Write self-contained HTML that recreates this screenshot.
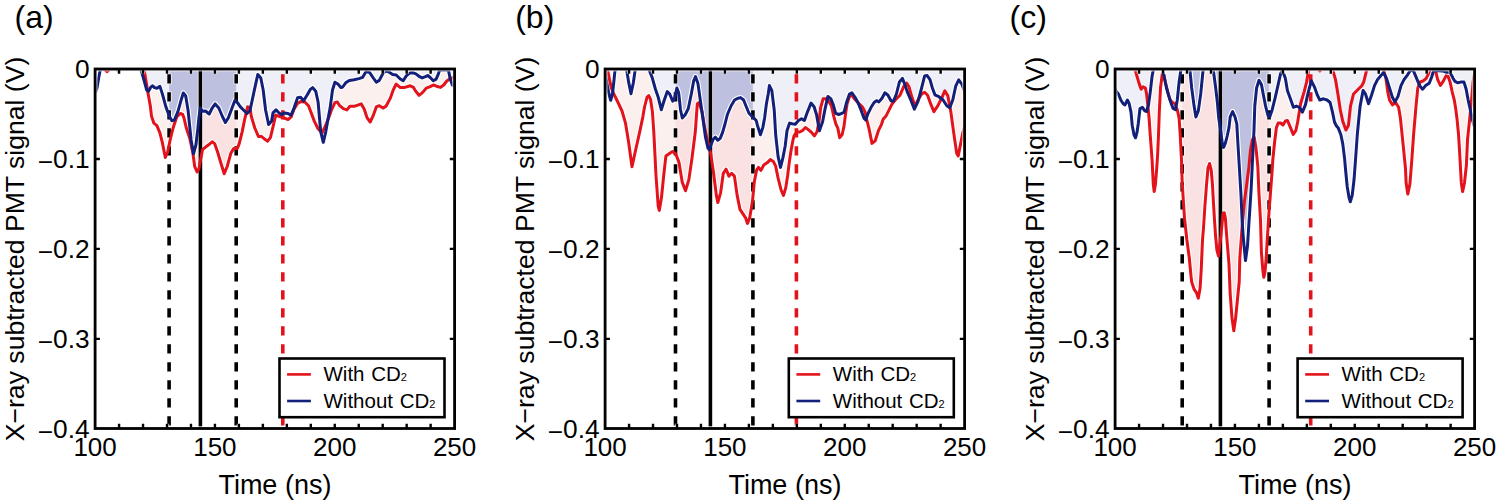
<!DOCTYPE html><html><head><meta charset="utf-8"><style>html,body{margin:0;padding:0;background:#fff;overflow:hidden}svg{display:block}text{font-family:"Liberation Sans", sans-serif}</style></head><body>
<svg width="1498" height="504" viewBox="0 0 1498 504">
<defs>
<clipPath id="plot"><rect x="95.1" y="69.0" width="359.5" height="359.5"/></clipPath>
<clipPath id="win0"><rect x="169.1" y="69.0" width="67.1" height="359.5"/></clipPath>
<clipPath id="win1"><rect x="165.5" y="69.0" width="77.39999999999998" height="359.5"/></clipPath>
<clipPath id="win2"><rect x="162.20000000000005" y="69.0" width="86.89999999999986" height="359.5"/></clipPath>
</defs>
<g transform="translate(0,0)">
<g clip-path="url(#plot)">
<polygon points="95.5,69.0 95.5,68.8 104.0,68.8 107.0,71.6 110.0,68.8 143.0,68.8 144.3,70.8 147.9,92.4 150.3,105.7 151.5,116.0 153.9,123.2 156.9,125.6 159.9,132.8 162.3,142.4 165.3,157.5 167.7,152.0 170.1,140.0 173.1,128.0 176.7,117.0 180.3,113.5 182.7,114.5 184.0,118.0 186.3,128.0 189.9,138.8 192.9,153.3 194.7,166.5 197.1,171.9 198.9,168.9 200.5,160.0 202.5,149.6 205.5,147.2 208.6,144.8 212.2,141.8 214.6,143.6 217.6,152.0 221.2,164.0 224.2,173.7 227.2,166.5 230.8,153.3 233.8,148.4 237.4,148.4 239.2,143.6 242.2,131.6 244.6,119.6 247.6,106.9 250.0,107.5 251.2,116.0 254.8,128.0 258.4,136.4 261.4,136.4 264.4,138.8 267.4,141.2 270.4,137.6 272.5,129.0 275.7,115.1 279.6,116.5 283.2,117.7 288.0,119.5 291.0,117.1 294.0,109.3 297.6,103.3 301.2,101.4 304.8,102.0 308.5,105.7 310.6,111.3 314.4,121.4 318.2,129.0 322.0,132.8 325.8,125.2 329.6,115.1 331.3,110.5 334.9,102.6 337.3,102.0 339.7,105.7 343.3,108.7 346.9,109.9 349.9,106.3 354.1,106.3 357.7,105.1 361.3,103.9 364.3,109.3 367.0,117.6 370.2,122.0 373.4,115.1 376.3,106.9 379.3,105.7 383.0,108.1 386.0,106.3 390.2,98.4 393.2,90.0 396.2,84.0 400.0,87.4 404.8,87.4 410.3,85.8 413.5,87.4 415.9,91.4 419.0,95.3 422.2,92.9 426.2,88.2 430.2,86.6 433.3,85.0 436.5,86.2 440.5,87.4 443.7,85.0 446.8,81.0 450.0,78.7 452.4,77.9 454.0,77.0 454.0,69.0" fill="#fcf0ef"/>
<g clip-path="url(#win0)"><polygon points="95.5,69.0 95.5,68.8 104.0,68.8 107.0,71.6 110.0,68.8 143.0,68.8 144.3,70.8 147.9,92.4 150.3,105.7 151.5,116.0 153.9,123.2 156.9,125.6 159.9,132.8 162.3,142.4 165.3,157.5 167.7,152.0 170.1,140.0 173.1,128.0 176.7,117.0 180.3,113.5 182.7,114.5 184.0,118.0 186.3,128.0 189.9,138.8 192.9,153.3 194.7,166.5 197.1,171.9 198.9,168.9 200.5,160.0 202.5,149.6 205.5,147.2 208.6,144.8 212.2,141.8 214.6,143.6 217.6,152.0 221.2,164.0 224.2,173.7 227.2,166.5 230.8,153.3 233.8,148.4 237.4,148.4 239.2,143.6 242.2,131.6 244.6,119.6 247.6,106.9 250.0,107.5 251.2,116.0 254.8,128.0 258.4,136.4 261.4,136.4 264.4,138.8 267.4,141.2 270.4,137.6 272.5,129.0 275.7,115.1 279.6,116.5 283.2,117.7 288.0,119.5 291.0,117.1 294.0,109.3 297.6,103.3 301.2,101.4 304.8,102.0 308.5,105.7 310.6,111.3 314.4,121.4 318.2,129.0 322.0,132.8 325.8,125.2 329.6,115.1 331.3,110.5 334.9,102.6 337.3,102.0 339.7,105.7 343.3,108.7 346.9,109.9 349.9,106.3 354.1,106.3 357.7,105.1 361.3,103.9 364.3,109.3 367.0,117.6 370.2,122.0 373.4,115.1 376.3,106.9 379.3,105.7 383.0,108.1 386.0,106.3 390.2,98.4 393.2,90.0 396.2,84.0 400.0,87.4 404.8,87.4 410.3,85.8 413.5,87.4 415.9,91.4 419.0,95.3 422.2,92.9 426.2,88.2 430.2,86.6 433.3,85.0 436.5,86.2 440.5,87.4 443.7,85.0 446.8,81.0 450.0,78.7 452.4,77.9 454.0,77.0 454.0,69.0" fill="#fae2e2"/></g>
<polyline points="95.5,68.8 104.0,68.8 107.0,71.6 110.0,68.8 143.0,68.8 144.3,70.8 147.9,92.4 150.3,105.7 151.5,116.0 153.9,123.2 156.9,125.6 159.9,132.8 162.3,142.4 165.3,157.5 167.7,152.0 170.1,140.0 173.1,128.0 176.7,117.0 180.3,113.5 182.7,114.5 184.0,118.0 186.3,128.0 189.9,138.8 192.9,153.3 194.7,166.5 197.1,171.9 198.9,168.9 200.5,160.0 202.5,149.6 205.5,147.2 208.6,144.8 212.2,141.8 214.6,143.6 217.6,152.0 221.2,164.0 224.2,173.7 227.2,166.5 230.8,153.3 233.8,148.4 237.4,148.4 239.2,143.6 242.2,131.6 244.6,119.6 247.6,106.9 250.0,107.5 251.2,116.0 254.8,128.0 258.4,136.4 261.4,136.4 264.4,138.8 267.4,141.2 270.4,137.6 272.5,129.0 275.7,115.1 279.6,116.5 283.2,117.7 288.0,119.5 291.0,117.1 294.0,109.3 297.6,103.3 301.2,101.4 304.8,102.0 308.5,105.7 310.6,111.3 314.4,121.4 318.2,129.0 322.0,132.8 325.8,125.2 329.6,115.1 331.3,110.5 334.9,102.6 337.3,102.0 339.7,105.7 343.3,108.7 346.9,109.9 349.9,106.3 354.1,106.3 357.7,105.1 361.3,103.9 364.3,109.3 367.0,117.6 370.2,122.0 373.4,115.1 376.3,106.9 379.3,105.7 383.0,108.1 386.0,106.3 390.2,98.4 393.2,90.0 396.2,84.0 400.0,87.4 404.8,87.4 410.3,85.8 413.5,87.4 415.9,91.4 419.0,95.3 422.2,92.9 426.2,88.2 430.2,86.6 433.3,85.0 436.5,86.2 440.5,87.4 443.7,85.0 446.8,81.0 450.0,78.7 452.4,77.9 454.0,77.0" fill="none" stroke="#fff" stroke-width="5.2" stroke-linejoin="round"/>
<polygon points="95.5,69.0 95.5,92.0 97.0,88.0 99.0,76.0 100.5,68.8 117.0,68.8 118.5,71.5 120.0,68.8 140.0,68.8 141.3,70.8 144.0,80.0 146.7,90.0 148.5,91.2 150.9,87.0 152.7,85.8 154.5,87.6 156.9,88.2 159.9,86.4 162.3,93.6 165.9,106.9 169.5,116.5 171.9,120.7 174.3,120.1 177.9,111.7 180.9,100.8 183.3,93.0 185.7,96.0 188.1,110.5 191.1,140.0 193.5,153.8 195.9,145.0 197.7,130.0 198.9,118.0 200.3,108.0 202.5,111.3 205.5,111.0 209.2,114.0 212.2,108.0 215.2,103.9 218.8,108.0 222.4,116.5 225.4,122.5 228.4,117.7 232.0,108.0 235.0,100.2 237.4,102.6 240.4,106.9 244.0,110.5 247.0,113.5 250.0,110.5 253.6,93.6 257.8,74.4 260.8,78.0 263.2,90.0 265.6,110.0 268.6,124.5 271.6,121.0 273.0,112.9 276.0,109.9 278.4,112.3 281.4,114.7 284.4,112.9 288.0,113.5 291.0,115.3 294.0,108.1 297.6,97.8 300.6,97.2 303.6,100.8 307.3,94.8 310.3,89.4 312.7,87.6 315.7,91.2 318.1,102.0 320.7,131.6 323.3,142.3 325.8,131.6 328.3,117.6 330.1,108.1 332.5,90.0 334.9,82.2 337.9,84.0 340.9,87.6 342.7,87.0 345.7,82.8 349.3,80.4 354.1,79.8 358.9,78.6 362.5,77.4 366.1,71.4 369.7,72.6 373.3,78.0 376.3,82.2 379.3,80.4 383.0,73.2 386.0,70.8 389.0,72.0 392.6,74.4 396.2,75.0 400.0,78.7 403.2,80.7 406.3,75.9 409.5,73.1 412.7,72.7 415.9,73.9 419.0,76.3 422.2,77.9 425.4,76.7 427.8,75.5 430.2,77.5 433.3,80.7 436.1,79.1 438.1,74.7 439.7,69.9 448.4,69.9 450.0,77.9 452.4,85.0 454.0,86.0 454.0,69.0" fill="#efeff8"/>
<g clip-path="url(#win0)"><polygon points="95.5,69.0 95.5,92.0 97.0,88.0 99.0,76.0 100.5,68.8 117.0,68.8 118.5,71.5 120.0,68.8 140.0,68.8 141.3,70.8 144.0,80.0 146.7,90.0 148.5,91.2 150.9,87.0 152.7,85.8 154.5,87.6 156.9,88.2 159.9,86.4 162.3,93.6 165.9,106.9 169.5,116.5 171.9,120.7 174.3,120.1 177.9,111.7 180.9,100.8 183.3,93.0 185.7,96.0 188.1,110.5 191.1,140.0 193.5,153.8 195.9,145.0 197.7,130.0 198.9,118.0 200.3,108.0 202.5,111.3 205.5,111.0 209.2,114.0 212.2,108.0 215.2,103.9 218.8,108.0 222.4,116.5 225.4,122.5 228.4,117.7 232.0,108.0 235.0,100.2 237.4,102.6 240.4,106.9 244.0,110.5 247.0,113.5 250.0,110.5 253.6,93.6 257.8,74.4 260.8,78.0 263.2,90.0 265.6,110.0 268.6,124.5 271.6,121.0 273.0,112.9 276.0,109.9 278.4,112.3 281.4,114.7 284.4,112.9 288.0,113.5 291.0,115.3 294.0,108.1 297.6,97.8 300.6,97.2 303.6,100.8 307.3,94.8 310.3,89.4 312.7,87.6 315.7,91.2 318.1,102.0 320.7,131.6 323.3,142.3 325.8,131.6 328.3,117.6 330.1,108.1 332.5,90.0 334.9,82.2 337.9,84.0 340.9,87.6 342.7,87.0 345.7,82.8 349.3,80.4 354.1,79.8 358.9,78.6 362.5,77.4 366.1,71.4 369.7,72.6 373.3,78.0 376.3,82.2 379.3,80.4 383.0,73.2 386.0,70.8 389.0,72.0 392.6,74.4 396.2,75.0 400.0,78.7 403.2,80.7 406.3,75.9 409.5,73.1 412.7,72.7 415.9,73.9 419.0,76.3 422.2,77.9 425.4,76.7 427.8,75.5 430.2,77.5 433.3,80.7 436.1,79.1 438.1,74.7 439.7,69.9 448.4,69.9 450.0,77.9 452.4,85.0 454.0,86.0 454.0,69.0" fill="#bec0e0"/></g>
<polyline points="95.5,92.0 97.0,88.0 99.0,76.0 100.5,68.8 117.0,68.8 118.5,71.5 120.0,68.8 140.0,68.8 141.3,70.8 144.0,80.0 146.7,90.0 148.5,91.2 150.9,87.0 152.7,85.8 154.5,87.6 156.9,88.2 159.9,86.4 162.3,93.6 165.9,106.9 169.5,116.5 171.9,120.7 174.3,120.1 177.9,111.7 180.9,100.8 183.3,93.0 185.7,96.0 188.1,110.5 191.1,140.0 193.5,153.8 195.9,145.0 197.7,130.0 198.9,118.0 200.3,108.0 202.5,111.3 205.5,111.0 209.2,114.0 212.2,108.0 215.2,103.9 218.8,108.0 222.4,116.5 225.4,122.5 228.4,117.7 232.0,108.0 235.0,100.2 237.4,102.6 240.4,106.9 244.0,110.5 247.0,113.5 250.0,110.5 253.6,93.6 257.8,74.4 260.8,78.0 263.2,90.0 265.6,110.0 268.6,124.5 271.6,121.0 273.0,112.9 276.0,109.9 278.4,112.3 281.4,114.7 284.4,112.9 288.0,113.5 291.0,115.3 294.0,108.1 297.6,97.8 300.6,97.2 303.6,100.8 307.3,94.8 310.3,89.4 312.7,87.6 315.7,91.2 318.1,102.0 320.7,131.6 323.3,142.3 325.8,131.6 328.3,117.6 330.1,108.1 332.5,90.0 334.9,82.2 337.9,84.0 340.9,87.6 342.7,87.0 345.7,82.8 349.3,80.4 354.1,79.8 358.9,78.6 362.5,77.4 366.1,71.4 369.7,72.6 373.3,78.0 376.3,82.2 379.3,80.4 383.0,73.2 386.0,70.8 389.0,72.0 392.6,74.4 396.2,75.0 400.0,78.7 403.2,80.7 406.3,75.9 409.5,73.1 412.7,72.7 415.9,73.9 419.0,76.3 422.2,77.9 425.4,76.7 427.8,75.5 430.2,77.5 433.3,80.7 436.1,79.1 438.1,74.7 439.7,69.9 448.4,69.9 450.0,77.9 452.4,85.0 454.0,86.0" fill="none" stroke="#fff" stroke-width="5.2" stroke-linejoin="round"/>
<line x1="169.1" y1="69.0" x2="169.1" y2="428.5" stroke="#fff" stroke-width="5.2" stroke-dasharray="10.799999999999999 7.200000000000001" stroke-dashoffset="-4.4" opacity="0.8"/>
<line x1="169.1" y1="69.0" x2="169.1" y2="428.5" stroke="#000" stroke-width="3.6" stroke-dasharray="9.2 8.8" stroke-dashoffset="-5.2"/>
<line x1="236.2" y1="69.0" x2="236.2" y2="428.5" stroke="#fff" stroke-width="5.2" stroke-dasharray="10.799999999999999 7.200000000000001" stroke-dashoffset="-4.4" opacity="0.8"/>
<line x1="236.2" y1="69.0" x2="236.2" y2="428.5" stroke="#000" stroke-width="3.6" stroke-dasharray="9.2 8.8" stroke-dashoffset="-5.2"/>
<line x1="200.4" y1="69.0" x2="200.4" y2="428.5" stroke="#fff" stroke-width="5.2" opacity="0.8"/>
<line x1="200.4" y1="69.0" x2="200.4" y2="428.5" stroke="#000" stroke-width="3.6"/>
<line x1="282.8" y1="69.0" x2="282.8" y2="428.5" stroke="#e3121b" stroke-width="3.6" stroke-dasharray="9.2 8.8" stroke-dashoffset="-5.2"/>
<polyline points="95.5,68.8 104.0,68.8 107.0,71.6 110.0,68.8 143.0,68.8 144.3,70.8 147.9,92.4 150.3,105.7 151.5,116.0 153.9,123.2 156.9,125.6 159.9,132.8 162.3,142.4 165.3,157.5 167.7,152.0 170.1,140.0 173.1,128.0 176.7,117.0 180.3,113.5 182.7,114.5 184.0,118.0 186.3,128.0 189.9,138.8 192.9,153.3 194.7,166.5 197.1,171.9 198.9,168.9 200.5,160.0 202.5,149.6 205.5,147.2 208.6,144.8 212.2,141.8 214.6,143.6 217.6,152.0 221.2,164.0 224.2,173.7 227.2,166.5 230.8,153.3 233.8,148.4 237.4,148.4 239.2,143.6 242.2,131.6 244.6,119.6 247.6,106.9 250.0,107.5 251.2,116.0 254.8,128.0 258.4,136.4 261.4,136.4 264.4,138.8 267.4,141.2 270.4,137.6 272.5,129.0 275.7,115.1 279.6,116.5 283.2,117.7 288.0,119.5 291.0,117.1 294.0,109.3 297.6,103.3 301.2,101.4 304.8,102.0 308.5,105.7 310.6,111.3 314.4,121.4 318.2,129.0 322.0,132.8 325.8,125.2 329.6,115.1 331.3,110.5 334.9,102.6 337.3,102.0 339.7,105.7 343.3,108.7 346.9,109.9 349.9,106.3 354.1,106.3 357.7,105.1 361.3,103.9 364.3,109.3 367.0,117.6 370.2,122.0 373.4,115.1 376.3,106.9 379.3,105.7 383.0,108.1 386.0,106.3 390.2,98.4 393.2,90.0 396.2,84.0 400.0,87.4 404.8,87.4 410.3,85.8 413.5,87.4 415.9,91.4 419.0,95.3 422.2,92.9 426.2,88.2 430.2,86.6 433.3,85.0 436.5,86.2 440.5,87.4 443.7,85.0 446.8,81.0 450.0,78.7 452.4,77.9 454.0,77.0" fill="none" stroke="#e3121b" stroke-width="3.0" stroke-linejoin="round" stroke-linecap="round"/>
<polyline points="95.5,92.0 97.0,88.0 99.0,76.0 100.5,68.8 117.0,68.8 118.5,71.5 120.0,68.8 140.0,68.8 141.3,70.8 144.0,80.0 146.7,90.0 148.5,91.2 150.9,87.0 152.7,85.8 154.5,87.6 156.9,88.2 159.9,86.4 162.3,93.6 165.9,106.9 169.5,116.5 171.9,120.7 174.3,120.1 177.9,111.7 180.9,100.8 183.3,93.0 185.7,96.0 188.1,110.5 191.1,140.0 193.5,153.8 195.9,145.0 197.7,130.0 198.9,118.0 200.3,108.0 202.5,111.3 205.5,111.0 209.2,114.0 212.2,108.0 215.2,103.9 218.8,108.0 222.4,116.5 225.4,122.5 228.4,117.7 232.0,108.0 235.0,100.2 237.4,102.6 240.4,106.9 244.0,110.5 247.0,113.5 250.0,110.5 253.6,93.6 257.8,74.4 260.8,78.0 263.2,90.0 265.6,110.0 268.6,124.5 271.6,121.0 273.0,112.9 276.0,109.9 278.4,112.3 281.4,114.7 284.4,112.9 288.0,113.5 291.0,115.3 294.0,108.1 297.6,97.8 300.6,97.2 303.6,100.8 307.3,94.8 310.3,89.4 312.7,87.6 315.7,91.2 318.1,102.0 320.7,131.6 323.3,142.3 325.8,131.6 328.3,117.6 330.1,108.1 332.5,90.0 334.9,82.2 337.9,84.0 340.9,87.6 342.7,87.0 345.7,82.8 349.3,80.4 354.1,79.8 358.9,78.6 362.5,77.4 366.1,71.4 369.7,72.6 373.3,78.0 376.3,82.2 379.3,80.4 383.0,73.2 386.0,70.8 389.0,72.0 392.6,74.4 396.2,75.0 400.0,78.7 403.2,80.7 406.3,75.9 409.5,73.1 412.7,72.7 415.9,73.9 419.0,76.3 422.2,77.9 425.4,76.7 427.8,75.5 430.2,77.5 433.3,80.7 436.1,79.1 438.1,74.7 439.7,69.9 448.4,69.9 450.0,77.9 452.4,85.0 454.0,86.0" fill="none" stroke="#12207a" stroke-width="3.0" stroke-linejoin="round" stroke-linecap="round"/>
</g>
<rect x="95.1" y="69.0" width="359.5" height="359.5" fill="none" stroke="#fff" stroke-opacity="0.7" stroke-width="4.8"/>
<path d="M119.07,428.5v-4.8M119.07,69.0v4.8M143.03,428.5v-4.8M143.03,69.0v4.8M167.00,428.5v-4.8M167.00,69.0v4.8M190.97,428.5v-4.8M190.97,69.0v4.8M214.93,428.5v-4.8M214.93,69.0v4.8M238.90,428.5v-4.8M238.90,69.0v4.8M262.87,428.5v-4.8M262.87,69.0v4.8M286.83,428.5v-4.8M286.83,69.0v4.8M310.80,428.5v-4.8M310.80,69.0v4.8M334.77,428.5v-4.8M334.77,69.0v4.8M358.73,428.5v-4.8M358.73,69.0v4.8M382.70,428.5v-4.8M382.70,69.0v4.8M406.67,428.5v-4.8M406.67,69.0v4.8M430.63,428.5v-4.8M430.63,69.0v4.8M95.1,158.95h4.8M454.6,158.95h-4.8M95.1,248.90h4.8M454.6,248.90h-4.8M95.1,338.85h4.8M454.6,338.85h-4.8" stroke="#fff" stroke-opacity="0.7" stroke-width="4.4" fill="none"/>
<path d="M119.07,428.5v-4.8M119.07,69.0v4.8M143.03,428.5v-4.8M143.03,69.0v4.8M167.00,428.5v-4.8M167.00,69.0v4.8M190.97,428.5v-4.8M190.97,69.0v4.8M214.93,428.5v-4.8M214.93,69.0v4.8M238.90,428.5v-4.8M238.90,69.0v4.8M262.87,428.5v-4.8M262.87,69.0v4.8M286.83,428.5v-4.8M286.83,69.0v4.8M310.80,428.5v-4.8M310.80,69.0v4.8M334.77,428.5v-4.8M334.77,69.0v4.8M358.73,428.5v-4.8M358.73,69.0v4.8M382.70,428.5v-4.8M382.70,69.0v4.8M406.67,428.5v-4.8M406.67,69.0v4.8M430.63,428.5v-4.8M430.63,69.0v4.8M95.1,158.95h4.8M454.6,158.95h-4.8M95.1,248.90h4.8M454.6,248.90h-4.8M95.1,338.85h4.8M454.6,338.85h-4.8" stroke="#000" stroke-width="2.4" fill="none"/>
<rect x="95.1" y="69.0" width="359.5" height="359.5" fill="none" stroke="#000" stroke-width="2.8"/>
<text x="89.6" y="78.3" font-size="26.3" text-anchor="end">0</text>
<text x="89.6" y="168.2" font-size="26.3" text-anchor="end"><tspan dy="2.4">−</tspan><tspan dy="-2.4">0.1</tspan></text>
<text x="89.6" y="258.2" font-size="26.3" text-anchor="end"><tspan dy="2.4">−</tspan><tspan dy="-2.4">0.2</tspan></text>
<text x="89.6" y="348.1" font-size="26.3" text-anchor="end"><tspan dy="2.4">−</tspan><tspan dy="-2.4">0.3</tspan></text>
<text x="89.6" y="438.1" font-size="26.3" text-anchor="end"><tspan dy="2.4">−</tspan><tspan dy="-2.4">0.4</tspan></text>
<text x="95.1" y="456.2" font-size="26" text-anchor="middle">100</text>
<text x="214.9" y="456.2" font-size="26" text-anchor="middle">150</text>
<text x="334.8" y="456.2" font-size="26" text-anchor="middle">200</text>
<text x="454.6" y="456.2" font-size="26" text-anchor="middle">250</text>
<text x="274.9" y="494.2" font-size="27" text-anchor="middle">Time (ns)</text>
<text transform="translate(23.6,249.0) rotate(-90)" x="0" y="0" font-size="26.6" text-anchor="middle">X−ray subtracted PMT signal (V)</text>
<text x="14.5" y="28" font-size="32">(a)</text>
<g transform="translate(0,0)">
<rect x="279.5" y="358.5" width="165" height="58.7" fill="#fff" stroke="#000" stroke-width="2.6"/>
<line x1="287.1" y1="374.4" x2="310.9" y2="374.4" stroke="#e3121b" stroke-width="2.6"/>
<line x1="287.1" y1="401" x2="310.9" y2="401" stroke="#12207a" stroke-width="2.6"/>
<text x="323.5" y="381" font-size="20.5" word-spacing="1">With CD<tspan font-size="11">2</tspan></text>
<text x="323.5" y="407.5" font-size="20.5" word-spacing="1">Without CD<tspan font-size="11">2</tspan></text>
</g>
</g>
<g transform="translate(510,0)">
<g clip-path="url(#plot)">
<polygon points="95.5,69.0 95.5,68.8 97.7,70.5 99.5,79.5 101.3,87.8 103.7,93.8 106.1,98.5 109.0,104.5 112.0,111.0 115.5,123.1 118.7,142.8 122.0,166.8 125.3,151.5 129.7,131.8 132.9,116.6 134.5,107.0 137.0,97.3 138.8,95.5 140.6,99.7 142.4,111.6 143.8,131.8 146.0,175.5 148.2,206.1 149.3,210.4 151.5,197.3 153.7,175.5 155.9,155.9 159.1,153.7 162.4,151.5 165.7,153.7 169.0,162.4 172.2,182.1 175.5,190.8 178.8,179.9 182.0,158.0 185.3,131.8 187.3,103.7 189.1,102.5 192.1,112.0 193.9,123.3 196.9,138.4 199.4,148.0 200.8,153.9 203.6,173.3 206.4,195.6 207.8,202.5 210.6,192.8 213.3,173.3 216.1,169.2 218.9,176.1 221.7,173.3 224.4,176.1 227.2,195.6 230.0,209.4 232.8,213.6 235.6,217.8 237.5,223.4 239.7,217.8 242.5,201.1 244.3,181.7 246.7,169.8 248.5,167.4 250.8,170.4 253.8,165.0 257.4,162.6 260.4,159.6 263.3,161.4 265.7,166.2 268.1,178.1 271.1,190.0 273.5,195.4 275.8,187.6 277.6,175.7 279.4,161.4 281.2,149.5 283.0,140.0 284.0,135.8 286.6,132.0 289.7,132.0 292.3,130.7 295.4,127.5 298.0,129.4 301.1,132.0 304.3,135.8 306.9,132.0 308.8,123.1 310.7,107.3 313.1,98.8 315.5,98.8 318.5,100.7 321.5,106.1 323.9,116.9 325.9,124.0 327.8,128.1 329.7,137.7 332.2,134.5 334.1,125.6 335.4,115.0 337.1,103.7 340.1,94.6 342.5,96.4 345.5,100.0 349.1,103.7 352.7,107.3 355.1,112.1 356.3,118.0 358.9,128.1 362.0,143.4 365.2,140.8 368.4,130.7 371.5,124.3 373.1,119.3 376.2,115.7 379.2,109.7 382.2,103.7 385.2,100.0 390.0,95.2 393.6,86.8 396.6,83.2 399.0,86.8 402.0,97.6 405.0,106.1 408.0,100.0 411.6,94.0 414.6,92.2 417.6,95.2 420.6,103.7 423.9,111.6 427.9,105.7 431.9,97.7 434.8,90.8 437.8,95.7 440.8,111.6 443.8,133.4 446.7,153.3 448.2,156.0 450.7,143.4 452.7,133.2 454.5,127.0 454.5,69.0" fill="#fcf0ef"/>
<g clip-path="url(#win1)"><polygon points="95.5,69.0 95.5,68.8 97.7,70.5 99.5,79.5 101.3,87.8 103.7,93.8 106.1,98.5 109.0,104.5 112.0,111.0 115.5,123.1 118.7,142.8 122.0,166.8 125.3,151.5 129.7,131.8 132.9,116.6 134.5,107.0 137.0,97.3 138.8,95.5 140.6,99.7 142.4,111.6 143.8,131.8 146.0,175.5 148.2,206.1 149.3,210.4 151.5,197.3 153.7,175.5 155.9,155.9 159.1,153.7 162.4,151.5 165.7,153.7 169.0,162.4 172.2,182.1 175.5,190.8 178.8,179.9 182.0,158.0 185.3,131.8 187.3,103.7 189.1,102.5 192.1,112.0 193.9,123.3 196.9,138.4 199.4,148.0 200.8,153.9 203.6,173.3 206.4,195.6 207.8,202.5 210.6,192.8 213.3,173.3 216.1,169.2 218.9,176.1 221.7,173.3 224.4,176.1 227.2,195.6 230.0,209.4 232.8,213.6 235.6,217.8 237.5,223.4 239.7,217.8 242.5,201.1 244.3,181.7 246.7,169.8 248.5,167.4 250.8,170.4 253.8,165.0 257.4,162.6 260.4,159.6 263.3,161.4 265.7,166.2 268.1,178.1 271.1,190.0 273.5,195.4 275.8,187.6 277.6,175.7 279.4,161.4 281.2,149.5 283.0,140.0 284.0,135.8 286.6,132.0 289.7,132.0 292.3,130.7 295.4,127.5 298.0,129.4 301.1,132.0 304.3,135.8 306.9,132.0 308.8,123.1 310.7,107.3 313.1,98.8 315.5,98.8 318.5,100.7 321.5,106.1 323.9,116.9 325.9,124.0 327.8,128.1 329.7,137.7 332.2,134.5 334.1,125.6 335.4,115.0 337.1,103.7 340.1,94.6 342.5,96.4 345.5,100.0 349.1,103.7 352.7,107.3 355.1,112.1 356.3,118.0 358.9,128.1 362.0,143.4 365.2,140.8 368.4,130.7 371.5,124.3 373.1,119.3 376.2,115.7 379.2,109.7 382.2,103.7 385.2,100.0 390.0,95.2 393.6,86.8 396.6,83.2 399.0,86.8 402.0,97.6 405.0,106.1 408.0,100.0 411.6,94.0 414.6,92.2 417.6,95.2 420.6,103.7 423.9,111.6 427.9,105.7 431.9,97.7 434.8,90.8 437.8,95.7 440.8,111.6 443.8,133.4 446.7,153.3 448.2,156.0 450.7,143.4 452.7,133.2 454.5,127.0 454.5,69.0" fill="#fae2e2"/></g>
<polyline points="95.5,68.8 97.7,70.5 99.5,79.5 101.3,87.8 103.7,93.8 106.1,98.5 109.0,104.5 112.0,111.0 115.5,123.1 118.7,142.8 122.0,166.8 125.3,151.5 129.7,131.8 132.9,116.6 134.5,107.0 137.0,97.3 138.8,95.5 140.6,99.7 142.4,111.6 143.8,131.8 146.0,175.5 148.2,206.1 149.3,210.4 151.5,197.3 153.7,175.5 155.9,155.9 159.1,153.7 162.4,151.5 165.7,153.7 169.0,162.4 172.2,182.1 175.5,190.8 178.8,179.9 182.0,158.0 185.3,131.8 187.3,103.7 189.1,102.5 192.1,112.0 193.9,123.3 196.9,138.4 199.4,148.0 200.8,153.9 203.6,173.3 206.4,195.6 207.8,202.5 210.6,192.8 213.3,173.3 216.1,169.2 218.9,176.1 221.7,173.3 224.4,176.1 227.2,195.6 230.0,209.4 232.8,213.6 235.6,217.8 237.5,223.4 239.7,217.8 242.5,201.1 244.3,181.7 246.7,169.8 248.5,167.4 250.8,170.4 253.8,165.0 257.4,162.6 260.4,159.6 263.3,161.4 265.7,166.2 268.1,178.1 271.1,190.0 273.5,195.4 275.8,187.6 277.6,175.7 279.4,161.4 281.2,149.5 283.0,140.0 284.0,135.8 286.6,132.0 289.7,132.0 292.3,130.7 295.4,127.5 298.0,129.4 301.1,132.0 304.3,135.8 306.9,132.0 308.8,123.1 310.7,107.3 313.1,98.8 315.5,98.8 318.5,100.7 321.5,106.1 323.9,116.9 325.9,124.0 327.8,128.1 329.7,137.7 332.2,134.5 334.1,125.6 335.4,115.0 337.1,103.7 340.1,94.6 342.5,96.4 345.5,100.0 349.1,103.7 352.7,107.3 355.1,112.1 356.3,118.0 358.9,128.1 362.0,143.4 365.2,140.8 368.4,130.7 371.5,124.3 373.1,119.3 376.2,115.7 379.2,109.7 382.2,103.7 385.2,100.0 390.0,95.2 393.6,86.8 396.6,83.2 399.0,86.8 402.0,97.6 405.0,106.1 408.0,100.0 411.6,94.0 414.6,92.2 417.6,95.2 420.6,103.7 423.9,111.6 427.9,105.7 431.9,97.7 434.8,90.8 437.8,95.7 440.8,111.6 443.8,133.4 446.7,153.3 448.2,156.0 450.7,143.4 452.7,133.2 454.5,127.0" fill="none" stroke="#fff" stroke-width="5.2" stroke-linejoin="round"/>
<polygon points="95.2,69.0 95.2,74.0 97.0,84.0 99.0,94.0 100.7,100.3 102.5,93.8 103.7,83.0 104.9,71.1 106.0,68.8 116.0,68.8 116.8,70.5 118.6,81.9 121.0,93.8 123.3,83.0 125.1,70.5 126.0,68.8 138.5,68.8 139.4,70.5 142.4,78.3 145.4,89.0 148.3,97.6 151.3,109.7 154.3,100.0 157.3,91.6 159.7,94.0 162.7,101.2 164.5,98.8 166.9,88.0 168.7,92.8 170.5,109.7 172.3,118.0 175.3,114.5 178.3,108.5 181.3,94.0 183.7,80.8 185.5,76.6 187.9,83.2 190.3,100.0 192.7,117.0 195.5,137.2 198.0,148.3 199.4,149.8 201.2,144.4 203.0,139.5 205.4,137.2 207.8,140.2 210.2,138.4 212.6,132.4 215.0,124.0 217.4,114.5 221.0,106.0 224.6,100.0 228.2,98.2 230.6,97.6 233.6,100.0 236.0,106.0 239.0,113.3 242.6,116.9 246.2,120.5 247.4,125.2 250.4,134.8 252.8,127.6 254.6,118.0 256.4,103.9 258.2,94.0 259.4,85.6 261.8,90.4 264.2,109.7 265.7,135.0 268.1,156.7 270.5,167.4 272.9,157.9 275.2,146.0 277.0,130.7 279.6,123.1 282.1,123.7 285.3,124.3 288.5,120.5 291.5,118.7 294.4,120.5 297.4,112.1 301.0,103.1 304.1,106.7 306.5,114.5 309.4,130.7 312.6,121.8 314.9,109.7 317.9,96.4 320.9,98.8 323.3,104.9 325.7,113.3 328.7,114.5 331.7,113.3 334.1,112.1 336.5,102.5 339.5,94.0 341.9,92.8 344.9,97.0 347.9,102.5 350.9,109.7 353.9,118.1 355.7,119.9 358.1,113.3 361.1,107.3 364.1,102.5 366.5,100.7 368.9,101.9 372.0,98.2 374.9,92.8 378.0,95.2 381.0,100.7 383.4,101.3 386.4,94.0 389.4,82.0 392.4,78.4 394.8,84.4 397.2,91.6 400.8,100.0 404.4,109.1 408.0,101.3 411.6,88.0 414.6,76.0 417.0,75.4 420.0,79.6 422.4,88.0 424.9,94.8 428.9,96.7 432.9,99.7 436.8,105.7 439.8,107.7 442.8,99.7 445.8,85.8 448.7,79.9 451.7,83.8 454.0,90.0 454.0,69.0" fill="#efeff8"/>
<g clip-path="url(#win1)"><polygon points="95.2,69.0 95.2,74.0 97.0,84.0 99.0,94.0 100.7,100.3 102.5,93.8 103.7,83.0 104.9,71.1 106.0,68.8 116.0,68.8 116.8,70.5 118.6,81.9 121.0,93.8 123.3,83.0 125.1,70.5 126.0,68.8 138.5,68.8 139.4,70.5 142.4,78.3 145.4,89.0 148.3,97.6 151.3,109.7 154.3,100.0 157.3,91.6 159.7,94.0 162.7,101.2 164.5,98.8 166.9,88.0 168.7,92.8 170.5,109.7 172.3,118.0 175.3,114.5 178.3,108.5 181.3,94.0 183.7,80.8 185.5,76.6 187.9,83.2 190.3,100.0 192.7,117.0 195.5,137.2 198.0,148.3 199.4,149.8 201.2,144.4 203.0,139.5 205.4,137.2 207.8,140.2 210.2,138.4 212.6,132.4 215.0,124.0 217.4,114.5 221.0,106.0 224.6,100.0 228.2,98.2 230.6,97.6 233.6,100.0 236.0,106.0 239.0,113.3 242.6,116.9 246.2,120.5 247.4,125.2 250.4,134.8 252.8,127.6 254.6,118.0 256.4,103.9 258.2,94.0 259.4,85.6 261.8,90.4 264.2,109.7 265.7,135.0 268.1,156.7 270.5,167.4 272.9,157.9 275.2,146.0 277.0,130.7 279.6,123.1 282.1,123.7 285.3,124.3 288.5,120.5 291.5,118.7 294.4,120.5 297.4,112.1 301.0,103.1 304.1,106.7 306.5,114.5 309.4,130.7 312.6,121.8 314.9,109.7 317.9,96.4 320.9,98.8 323.3,104.9 325.7,113.3 328.7,114.5 331.7,113.3 334.1,112.1 336.5,102.5 339.5,94.0 341.9,92.8 344.9,97.0 347.9,102.5 350.9,109.7 353.9,118.1 355.7,119.9 358.1,113.3 361.1,107.3 364.1,102.5 366.5,100.7 368.9,101.9 372.0,98.2 374.9,92.8 378.0,95.2 381.0,100.7 383.4,101.3 386.4,94.0 389.4,82.0 392.4,78.4 394.8,84.4 397.2,91.6 400.8,100.0 404.4,109.1 408.0,101.3 411.6,88.0 414.6,76.0 417.0,75.4 420.0,79.6 422.4,88.0 424.9,94.8 428.9,96.7 432.9,99.7 436.8,105.7 439.8,107.7 442.8,99.7 445.8,85.8 448.7,79.9 451.7,83.8 454.0,90.0 454.0,69.0" fill="#bec0e0"/></g>
<polyline points="95.2,74.0 97.0,84.0 99.0,94.0 100.7,100.3 102.5,93.8 103.7,83.0 104.9,71.1 106.0,68.8 116.0,68.8 116.8,70.5 118.6,81.9 121.0,93.8 123.3,83.0 125.1,70.5 126.0,68.8 138.5,68.8 139.4,70.5 142.4,78.3 145.4,89.0 148.3,97.6 151.3,109.7 154.3,100.0 157.3,91.6 159.7,94.0 162.7,101.2 164.5,98.8 166.9,88.0 168.7,92.8 170.5,109.7 172.3,118.0 175.3,114.5 178.3,108.5 181.3,94.0 183.7,80.8 185.5,76.6 187.9,83.2 190.3,100.0 192.7,117.0 195.5,137.2 198.0,148.3 199.4,149.8 201.2,144.4 203.0,139.5 205.4,137.2 207.8,140.2 210.2,138.4 212.6,132.4 215.0,124.0 217.4,114.5 221.0,106.0 224.6,100.0 228.2,98.2 230.6,97.6 233.6,100.0 236.0,106.0 239.0,113.3 242.6,116.9 246.2,120.5 247.4,125.2 250.4,134.8 252.8,127.6 254.6,118.0 256.4,103.9 258.2,94.0 259.4,85.6 261.8,90.4 264.2,109.7 265.7,135.0 268.1,156.7 270.5,167.4 272.9,157.9 275.2,146.0 277.0,130.7 279.6,123.1 282.1,123.7 285.3,124.3 288.5,120.5 291.5,118.7 294.4,120.5 297.4,112.1 301.0,103.1 304.1,106.7 306.5,114.5 309.4,130.7 312.6,121.8 314.9,109.7 317.9,96.4 320.9,98.8 323.3,104.9 325.7,113.3 328.7,114.5 331.7,113.3 334.1,112.1 336.5,102.5 339.5,94.0 341.9,92.8 344.9,97.0 347.9,102.5 350.9,109.7 353.9,118.1 355.7,119.9 358.1,113.3 361.1,107.3 364.1,102.5 366.5,100.7 368.9,101.9 372.0,98.2 374.9,92.8 378.0,95.2 381.0,100.7 383.4,101.3 386.4,94.0 389.4,82.0 392.4,78.4 394.8,84.4 397.2,91.6 400.8,100.0 404.4,109.1 408.0,101.3 411.6,88.0 414.6,76.0 417.0,75.4 420.0,79.6 422.4,88.0 424.9,94.8 428.9,96.7 432.9,99.7 436.8,105.7 439.8,107.7 442.8,99.7 445.8,85.8 448.7,79.9 451.7,83.8 454.0,90.0" fill="none" stroke="#fff" stroke-width="5.2" stroke-linejoin="round"/>
<line x1="165.5" y1="69.0" x2="165.5" y2="428.5" stroke="#fff" stroke-width="5.2" stroke-dasharray="10.799999999999999 7.200000000000001" stroke-dashoffset="-4.4" opacity="0.8"/>
<line x1="165.5" y1="69.0" x2="165.5" y2="428.5" stroke="#000" stroke-width="3.6" stroke-dasharray="9.2 8.8" stroke-dashoffset="-5.2"/>
<line x1="242.89999999999998" y1="69.0" x2="242.89999999999998" y2="428.5" stroke="#fff" stroke-width="5.2" stroke-dasharray="10.799999999999999 7.200000000000001" stroke-dashoffset="-4.4" opacity="0.8"/>
<line x1="242.89999999999998" y1="69.0" x2="242.89999999999998" y2="428.5" stroke="#000" stroke-width="3.6" stroke-dasharray="9.2 8.8" stroke-dashoffset="-5.2"/>
<line x1="200.39999999999998" y1="69.0" x2="200.39999999999998" y2="428.5" stroke="#fff" stroke-width="5.2" opacity="0.8"/>
<line x1="200.39999999999998" y1="69.0" x2="200.39999999999998" y2="428.5" stroke="#000" stroke-width="3.6"/>
<line x1="286.4" y1="69.0" x2="286.4" y2="428.5" stroke="#e3121b" stroke-width="3.6" stroke-dasharray="9.2 8.8" stroke-dashoffset="-5.2"/>
<polyline points="95.5,68.8 97.7,70.5 99.5,79.5 101.3,87.8 103.7,93.8 106.1,98.5 109.0,104.5 112.0,111.0 115.5,123.1 118.7,142.8 122.0,166.8 125.3,151.5 129.7,131.8 132.9,116.6 134.5,107.0 137.0,97.3 138.8,95.5 140.6,99.7 142.4,111.6 143.8,131.8 146.0,175.5 148.2,206.1 149.3,210.4 151.5,197.3 153.7,175.5 155.9,155.9 159.1,153.7 162.4,151.5 165.7,153.7 169.0,162.4 172.2,182.1 175.5,190.8 178.8,179.9 182.0,158.0 185.3,131.8 187.3,103.7 189.1,102.5 192.1,112.0 193.9,123.3 196.9,138.4 199.4,148.0 200.8,153.9 203.6,173.3 206.4,195.6 207.8,202.5 210.6,192.8 213.3,173.3 216.1,169.2 218.9,176.1 221.7,173.3 224.4,176.1 227.2,195.6 230.0,209.4 232.8,213.6 235.6,217.8 237.5,223.4 239.7,217.8 242.5,201.1 244.3,181.7 246.7,169.8 248.5,167.4 250.8,170.4 253.8,165.0 257.4,162.6 260.4,159.6 263.3,161.4 265.7,166.2 268.1,178.1 271.1,190.0 273.5,195.4 275.8,187.6 277.6,175.7 279.4,161.4 281.2,149.5 283.0,140.0 284.0,135.8 286.6,132.0 289.7,132.0 292.3,130.7 295.4,127.5 298.0,129.4 301.1,132.0 304.3,135.8 306.9,132.0 308.8,123.1 310.7,107.3 313.1,98.8 315.5,98.8 318.5,100.7 321.5,106.1 323.9,116.9 325.9,124.0 327.8,128.1 329.7,137.7 332.2,134.5 334.1,125.6 335.4,115.0 337.1,103.7 340.1,94.6 342.5,96.4 345.5,100.0 349.1,103.7 352.7,107.3 355.1,112.1 356.3,118.0 358.9,128.1 362.0,143.4 365.2,140.8 368.4,130.7 371.5,124.3 373.1,119.3 376.2,115.7 379.2,109.7 382.2,103.7 385.2,100.0 390.0,95.2 393.6,86.8 396.6,83.2 399.0,86.8 402.0,97.6 405.0,106.1 408.0,100.0 411.6,94.0 414.6,92.2 417.6,95.2 420.6,103.7 423.9,111.6 427.9,105.7 431.9,97.7 434.8,90.8 437.8,95.7 440.8,111.6 443.8,133.4 446.7,153.3 448.2,156.0 450.7,143.4 452.7,133.2 454.5,127.0" fill="none" stroke="#e3121b" stroke-width="3.0" stroke-linejoin="round" stroke-linecap="round"/>
<polyline points="95.2,74.0 97.0,84.0 99.0,94.0 100.7,100.3 102.5,93.8 103.7,83.0 104.9,71.1 106.0,68.8 116.0,68.8 116.8,70.5 118.6,81.9 121.0,93.8 123.3,83.0 125.1,70.5 126.0,68.8 138.5,68.8 139.4,70.5 142.4,78.3 145.4,89.0 148.3,97.6 151.3,109.7 154.3,100.0 157.3,91.6 159.7,94.0 162.7,101.2 164.5,98.8 166.9,88.0 168.7,92.8 170.5,109.7 172.3,118.0 175.3,114.5 178.3,108.5 181.3,94.0 183.7,80.8 185.5,76.6 187.9,83.2 190.3,100.0 192.7,117.0 195.5,137.2 198.0,148.3 199.4,149.8 201.2,144.4 203.0,139.5 205.4,137.2 207.8,140.2 210.2,138.4 212.6,132.4 215.0,124.0 217.4,114.5 221.0,106.0 224.6,100.0 228.2,98.2 230.6,97.6 233.6,100.0 236.0,106.0 239.0,113.3 242.6,116.9 246.2,120.5 247.4,125.2 250.4,134.8 252.8,127.6 254.6,118.0 256.4,103.9 258.2,94.0 259.4,85.6 261.8,90.4 264.2,109.7 265.7,135.0 268.1,156.7 270.5,167.4 272.9,157.9 275.2,146.0 277.0,130.7 279.6,123.1 282.1,123.7 285.3,124.3 288.5,120.5 291.5,118.7 294.4,120.5 297.4,112.1 301.0,103.1 304.1,106.7 306.5,114.5 309.4,130.7 312.6,121.8 314.9,109.7 317.9,96.4 320.9,98.8 323.3,104.9 325.7,113.3 328.7,114.5 331.7,113.3 334.1,112.1 336.5,102.5 339.5,94.0 341.9,92.8 344.9,97.0 347.9,102.5 350.9,109.7 353.9,118.1 355.7,119.9 358.1,113.3 361.1,107.3 364.1,102.5 366.5,100.7 368.9,101.9 372.0,98.2 374.9,92.8 378.0,95.2 381.0,100.7 383.4,101.3 386.4,94.0 389.4,82.0 392.4,78.4 394.8,84.4 397.2,91.6 400.8,100.0 404.4,109.1 408.0,101.3 411.6,88.0 414.6,76.0 417.0,75.4 420.0,79.6 422.4,88.0 424.9,94.8 428.9,96.7 432.9,99.7 436.8,105.7 439.8,107.7 442.8,99.7 445.8,85.8 448.7,79.9 451.7,83.8 454.0,90.0" fill="none" stroke="#12207a" stroke-width="3.0" stroke-linejoin="round" stroke-linecap="round"/>
</g>
<rect x="95.1" y="69.0" width="359.5" height="359.5" fill="none" stroke="#fff" stroke-opacity="0.7" stroke-width="4.8"/>
<path d="M119.07,428.5v-4.8M119.07,69.0v4.8M143.03,428.5v-4.8M143.03,69.0v4.8M167.00,428.5v-4.8M167.00,69.0v4.8M190.97,428.5v-4.8M190.97,69.0v4.8M214.93,428.5v-4.8M214.93,69.0v4.8M238.90,428.5v-4.8M238.90,69.0v4.8M262.87,428.5v-4.8M262.87,69.0v4.8M286.83,428.5v-4.8M286.83,69.0v4.8M310.80,428.5v-4.8M310.80,69.0v4.8M334.77,428.5v-4.8M334.77,69.0v4.8M358.73,428.5v-4.8M358.73,69.0v4.8M382.70,428.5v-4.8M382.70,69.0v4.8M406.67,428.5v-4.8M406.67,69.0v4.8M430.63,428.5v-4.8M430.63,69.0v4.8M95.1,158.95h4.8M454.6,158.95h-4.8M95.1,248.90h4.8M454.6,248.90h-4.8M95.1,338.85h4.8M454.6,338.85h-4.8" stroke="#fff" stroke-opacity="0.7" stroke-width="4.4" fill="none"/>
<path d="M119.07,428.5v-4.8M119.07,69.0v4.8M143.03,428.5v-4.8M143.03,69.0v4.8M167.00,428.5v-4.8M167.00,69.0v4.8M190.97,428.5v-4.8M190.97,69.0v4.8M214.93,428.5v-4.8M214.93,69.0v4.8M238.90,428.5v-4.8M238.90,69.0v4.8M262.87,428.5v-4.8M262.87,69.0v4.8M286.83,428.5v-4.8M286.83,69.0v4.8M310.80,428.5v-4.8M310.80,69.0v4.8M334.77,428.5v-4.8M334.77,69.0v4.8M358.73,428.5v-4.8M358.73,69.0v4.8M382.70,428.5v-4.8M382.70,69.0v4.8M406.67,428.5v-4.8M406.67,69.0v4.8M430.63,428.5v-4.8M430.63,69.0v4.8M95.1,158.95h4.8M454.6,158.95h-4.8M95.1,248.90h4.8M454.6,248.90h-4.8M95.1,338.85h4.8M454.6,338.85h-4.8" stroke="#000" stroke-width="2.4" fill="none"/>
<rect x="95.1" y="69.0" width="359.5" height="359.5" fill="none" stroke="#000" stroke-width="2.8"/>
<text x="89.6" y="78.3" font-size="26.3" text-anchor="end">0</text>
<text x="89.6" y="168.2" font-size="26.3" text-anchor="end"><tspan dy="2.4">−</tspan><tspan dy="-2.4">0.1</tspan></text>
<text x="89.6" y="258.2" font-size="26.3" text-anchor="end"><tspan dy="2.4">−</tspan><tspan dy="-2.4">0.2</tspan></text>
<text x="89.6" y="348.1" font-size="26.3" text-anchor="end"><tspan dy="2.4">−</tspan><tspan dy="-2.4">0.3</tspan></text>
<text x="89.6" y="438.1" font-size="26.3" text-anchor="end"><tspan dy="2.4">−</tspan><tspan dy="-2.4">0.4</tspan></text>
<text x="95.1" y="456.2" font-size="26" text-anchor="middle">100</text>
<text x="214.9" y="456.2" font-size="26" text-anchor="middle">150</text>
<text x="334.8" y="456.2" font-size="26" text-anchor="middle">200</text>
<text x="454.6" y="456.2" font-size="26" text-anchor="middle">250</text>
<text x="274.9" y="494.2" font-size="27" text-anchor="middle">Time (ns)</text>
<text transform="translate(23.6,249.0) rotate(-90)" x="0" y="0" font-size="26.6" text-anchor="middle">X−ray subtracted PMT signal (V)</text>
<text x="5.2" y="28" font-size="32">(b)</text>
<g transform="translate(-0.7,0)">
<rect x="279.5" y="358.5" width="165" height="58.7" fill="#fff" stroke="#000" stroke-width="2.6"/>
<line x1="287.1" y1="374.4" x2="310.9" y2="374.4" stroke="#e3121b" stroke-width="2.6"/>
<line x1="287.1" y1="401" x2="310.9" y2="401" stroke="#12207a" stroke-width="2.6"/>
<text x="323.5" y="381" font-size="20.5" word-spacing="1">With CD<tspan font-size="11">2</tspan></text>
<text x="323.5" y="407.5" font-size="20.5" word-spacing="1">Without CD<tspan font-size="11">2</tspan></text>
</g>
</g>
<g transform="translate(1020,0)">
<g clip-path="url(#plot)">
<polygon points="95.5,69.0 95.5,68.8 113.5,68.8 115.2,70.0 117.6,78.4 119.4,84.4 121.2,89.2 123.0,86.8 125.4,88.0 126.6,94.0 127.9,106.1 129.1,118.1 130.3,136.0 132.1,160.0 133.3,184.4 134.2,191.6 135.4,184.4 136.6,170.0 137.6,155.0 138.5,135.0 139.3,112.0 140.5,88.0 142.3,73.6 143.5,73.6 145.3,82.0 147.7,91.6 150.1,100.0 152.5,102.5 154.9,103.7 157.3,109.7 159.1,118.1 160.3,136.0 161.5,160.0 162.1,180.0 163.3,200.0 164.5,218.1 166.9,240.0 169.3,258.0 171.1,277.0 171.7,282.0 174.1,289.2 176.5,292.8 178.3,298.2 180.1,288.0 181.2,270.0 182.5,240.0 183.5,228.0 184.9,206.0 186.5,185.0 188.0,168.0 189.6,163.5 191.2,170.0 192.5,185.0 193.3,200.0 194.5,220.0 195.5,235.0 196.9,250.0 198.5,256.0 201.0,235.0 203.0,213.3 204.2,212.7 205.4,218.1 206.6,235.0 209.0,264.1 210.2,294.0 212.0,318.1 213.8,330.7 215.6,318.1 217.4,300.0 219.2,282.0 219.8,258.0 221.6,234.0 222.6,220.0 224.6,200.0 227.0,182.0 228.8,168.0 230.5,150.0 232.4,139.6 234.2,137.2 236.0,148.0 237.8,166.1 239.0,194.0 240.5,220.0 241.4,252.0 242.8,270.0 243.8,277.3 245.0,272.0 246.2,258.0 247.2,240.0 248.0,228.0 248.8,215.0 250.4,194.0 252.2,170.0 252.8,160.0 254.6,142.0 256.4,127.6 258.2,123.0 260.6,123.0 263.0,125.0 265.4,121.0 267.5,120.5 270.7,128.1 273.2,134.5 275.8,130.7 277.7,121.8 280.6,103.7 284.2,91.6 286.6,82.0 288.4,71.2 289.0,68.8 298.5,68.8 299.8,71.0 301.0,68.8 312.0,68.8 313.1,71.2 315.5,79.6 317.9,94.0 320.3,109.7 322.7,121.0 325.9,130.0 328.4,125.6 330.5,106.1 333.5,94.0 336.5,91.0 339.5,88.0 341.9,85.6 343.7,82.0 345.5,74.8 346.7,70.0 347.5,68.8 363.0,68.8 363.5,70.0 365.9,78.4 367.7,91.6 369.5,100.0 372.5,104.9 375.6,102.5 378.6,107.3 380.4,118.1 383.0,143.4 385.5,168.7 386.1,182.7 387.8,194.1 389.9,184.0 391.8,160.0 393.7,133.2 395.0,118.0 396.0,106.1 397.8,88.0 400.2,82.0 403.2,80.8 406.2,78.4 408.6,73.6 409.8,70.0 410.5,68.8 414.5,68.8 415.6,70.9 417.6,79.3 420.4,85.5 423.2,81.4 426.0,75.8 428.1,76.5 430.1,82.1 432.2,91.8 434.3,100.1 435.7,108.4 437.1,119.6 438.5,134.0 439.5,150.0 440.5,168.0 441.3,182.7 442.6,191.6 444.5,182.7 446.4,165.0 447.5,140.0 449.6,119.6 451.7,98.7 453.1,82.1 454.2,75.0 454.2,69.0" fill="#fcf0ef"/>
<g clip-path="url(#win2)"><polygon points="95.5,69.0 95.5,68.8 113.5,68.8 115.2,70.0 117.6,78.4 119.4,84.4 121.2,89.2 123.0,86.8 125.4,88.0 126.6,94.0 127.9,106.1 129.1,118.1 130.3,136.0 132.1,160.0 133.3,184.4 134.2,191.6 135.4,184.4 136.6,170.0 137.6,155.0 138.5,135.0 139.3,112.0 140.5,88.0 142.3,73.6 143.5,73.6 145.3,82.0 147.7,91.6 150.1,100.0 152.5,102.5 154.9,103.7 157.3,109.7 159.1,118.1 160.3,136.0 161.5,160.0 162.1,180.0 163.3,200.0 164.5,218.1 166.9,240.0 169.3,258.0 171.1,277.0 171.7,282.0 174.1,289.2 176.5,292.8 178.3,298.2 180.1,288.0 181.2,270.0 182.5,240.0 183.5,228.0 184.9,206.0 186.5,185.0 188.0,168.0 189.6,163.5 191.2,170.0 192.5,185.0 193.3,200.0 194.5,220.0 195.5,235.0 196.9,250.0 198.5,256.0 201.0,235.0 203.0,213.3 204.2,212.7 205.4,218.1 206.6,235.0 209.0,264.1 210.2,294.0 212.0,318.1 213.8,330.7 215.6,318.1 217.4,300.0 219.2,282.0 219.8,258.0 221.6,234.0 222.6,220.0 224.6,200.0 227.0,182.0 228.8,168.0 230.5,150.0 232.4,139.6 234.2,137.2 236.0,148.0 237.8,166.1 239.0,194.0 240.5,220.0 241.4,252.0 242.8,270.0 243.8,277.3 245.0,272.0 246.2,258.0 247.2,240.0 248.0,228.0 248.8,215.0 250.4,194.0 252.2,170.0 252.8,160.0 254.6,142.0 256.4,127.6 258.2,123.0 260.6,123.0 263.0,125.0 265.4,121.0 267.5,120.5 270.7,128.1 273.2,134.5 275.8,130.7 277.7,121.8 280.6,103.7 284.2,91.6 286.6,82.0 288.4,71.2 289.0,68.8 298.5,68.8 299.8,71.0 301.0,68.8 312.0,68.8 313.1,71.2 315.5,79.6 317.9,94.0 320.3,109.7 322.7,121.0 325.9,130.0 328.4,125.6 330.5,106.1 333.5,94.0 336.5,91.0 339.5,88.0 341.9,85.6 343.7,82.0 345.5,74.8 346.7,70.0 347.5,68.8 363.0,68.8 363.5,70.0 365.9,78.4 367.7,91.6 369.5,100.0 372.5,104.9 375.6,102.5 378.6,107.3 380.4,118.1 383.0,143.4 385.5,168.7 386.1,182.7 387.8,194.1 389.9,184.0 391.8,160.0 393.7,133.2 395.0,118.0 396.0,106.1 397.8,88.0 400.2,82.0 403.2,80.8 406.2,78.4 408.6,73.6 409.8,70.0 410.5,68.8 414.5,68.8 415.6,70.9 417.6,79.3 420.4,85.5 423.2,81.4 426.0,75.8 428.1,76.5 430.1,82.1 432.2,91.8 434.3,100.1 435.7,108.4 437.1,119.6 438.5,134.0 439.5,150.0 440.5,168.0 441.3,182.7 442.6,191.6 444.5,182.7 446.4,165.0 447.5,140.0 449.6,119.6 451.7,98.7 453.1,82.1 454.2,75.0 454.2,69.0" fill="#fae2e2"/></g>
<polyline points="95.5,68.8 113.5,68.8 115.2,70.0 117.6,78.4 119.4,84.4 121.2,89.2 123.0,86.8 125.4,88.0 126.6,94.0 127.9,106.1 129.1,118.1 130.3,136.0 132.1,160.0 133.3,184.4 134.2,191.6 135.4,184.4 136.6,170.0 137.6,155.0 138.5,135.0 139.3,112.0 140.5,88.0 142.3,73.6 143.5,73.6 145.3,82.0 147.7,91.6 150.1,100.0 152.5,102.5 154.9,103.7 157.3,109.7 159.1,118.1 160.3,136.0 161.5,160.0 162.1,180.0 163.3,200.0 164.5,218.1 166.9,240.0 169.3,258.0 171.1,277.0 171.7,282.0 174.1,289.2 176.5,292.8 178.3,298.2 180.1,288.0 181.2,270.0 182.5,240.0 183.5,228.0 184.9,206.0 186.5,185.0 188.0,168.0 189.6,163.5 191.2,170.0 192.5,185.0 193.3,200.0 194.5,220.0 195.5,235.0 196.9,250.0 198.5,256.0 201.0,235.0 203.0,213.3 204.2,212.7 205.4,218.1 206.6,235.0 209.0,264.1 210.2,294.0 212.0,318.1 213.8,330.7 215.6,318.1 217.4,300.0 219.2,282.0 219.8,258.0 221.6,234.0 222.6,220.0 224.6,200.0 227.0,182.0 228.8,168.0 230.5,150.0 232.4,139.6 234.2,137.2 236.0,148.0 237.8,166.1 239.0,194.0 240.5,220.0 241.4,252.0 242.8,270.0 243.8,277.3 245.0,272.0 246.2,258.0 247.2,240.0 248.0,228.0 248.8,215.0 250.4,194.0 252.2,170.0 252.8,160.0 254.6,142.0 256.4,127.6 258.2,123.0 260.6,123.0 263.0,125.0 265.4,121.0 267.5,120.5 270.7,128.1 273.2,134.5 275.8,130.7 277.7,121.8 280.6,103.7 284.2,91.6 286.6,82.0 288.4,71.2 289.0,68.8 298.5,68.8 299.8,71.0 301.0,68.8 312.0,68.8 313.1,71.2 315.5,79.6 317.9,94.0 320.3,109.7 322.7,121.0 325.9,130.0 328.4,125.6 330.5,106.1 333.5,94.0 336.5,91.0 339.5,88.0 341.9,85.6 343.7,82.0 345.5,74.8 346.7,70.0 347.5,68.8 363.0,68.8 363.5,70.0 365.9,78.4 367.7,91.6 369.5,100.0 372.5,104.9 375.6,102.5 378.6,107.3 380.4,118.1 383.0,143.4 385.5,168.7 386.1,182.7 387.8,194.1 389.9,184.0 391.8,160.0 393.7,133.2 395.0,118.0 396.0,106.1 397.8,88.0 400.2,82.0 403.2,80.8 406.2,78.4 408.6,73.6 409.8,70.0 410.5,68.8 414.5,68.8 415.6,70.9 417.6,79.3 420.4,85.5 423.2,81.4 426.0,75.8 428.1,76.5 430.1,82.1 432.2,91.8 434.3,100.1 435.7,108.4 437.1,119.6 438.5,134.0 439.5,150.0 440.5,168.0 441.3,182.7 442.6,191.6 444.5,182.7 446.4,165.0 447.5,140.0 449.6,119.6 451.7,98.7 453.1,82.1 454.2,75.0" fill="none" stroke="#fff" stroke-width="5.2" stroke-linejoin="round"/>
<polygon points="95.5,69.0 95.5,89.0 96.0,91.0 98.4,94.0 100.8,100.0 103.2,103.7 105.0,104.9 107.4,100.0 109.2,103.7 111.0,112.1 112.2,125.2 114.0,134.8 115.5,137.8 117.0,132.4 118.2,124.0 120.0,108.5 122.4,107.3 124.8,110.9 126.6,111.5 128.5,104.9 130.3,91.6 132.1,76.0 133.3,70.0 134.0,68.8 141.5,68.8 142.3,70.0 144.1,76.0 146.5,88.0 148.9,96.4 151.3,103.7 153.1,108.5 155.5,109.7 157.3,100.0 159.1,82.0 160.9,70.0 161.5,68.8 169.5,68.8 169.9,70.0 171.7,88.0 174.1,106.1 175.9,116.9 178.3,110.9 180.7,94.0 182.5,76.0 183.1,70.0 183.5,68.8 193.0,68.8 193.3,70.0 195.7,88.0 197.5,103.7 198.7,118.0 200.6,130.0 202.4,144.4 203.6,147.4 205.4,143.2 207.2,136.0 209.0,127.6 210.2,116.9 212.6,111.5 215.0,116.9 216.8,124.0 218.0,145.0 219.5,170.0 221.0,195.0 222.2,222.0 223.5,240.0 225.5,260.5 227.5,246.0 228.8,225.0 229.8,210.0 231.2,188.0 232.5,160.0 234.0,130.0 234.8,106.0 236.6,88.0 239.0,80.2 241.4,84.4 243.2,94.0 245.6,106.1 248.0,115.7 249.8,116.9 252.2,109.7 255.2,97.6 258.2,84.4 260.6,73.6 262.4,70.0 265.4,78.4 267.4,90.4 270.4,98.8 273.4,107.3 276.4,106.1 279.4,107.3 282.4,112.1 285.4,104.9 288.4,91.6 291.4,80.8 294.4,86.8 297.4,95.2 299.8,100.0 303.5,98.8 307.1,100.0 310.1,102.5 312.5,112.1 314.5,122.0 316.5,126.0 318.3,128.1 320.8,134.5 322.7,143.4 324.6,158.6 325.6,170.0 327.2,186.5 329.1,197.9 330.3,201.7 332.2,195.4 334.0,180.0 335.5,160.0 337.3,134.5 338.5,122.0 340.1,106.1 343.1,90.4 345.5,94.0 348.5,103.7 351.5,95.2 354.5,85.6 357.5,79.6 360.5,76.0 363.5,72.4 366.5,78.4 369.5,88.0 372.5,97.6 375.0,101.9 378.0,96.4 381.0,85.6 384.0,79.6 387.6,74.8 390.6,70.0 393.6,71.2 396.6,78.4 399.6,85.6 402.6,89.2 405.6,85.6 409.2,83.2 411.6,77.2 413.4,71.2 414.5,70.5 422.5,70.9 426.7,72.3 430.1,72.3 432.9,77.9 435.0,81.4 437.8,82.8 440.6,82.1 444.0,82.1 446.1,89.0 448.2,100.1 450.3,109.8 452.4,119.6 454.0,125.5 454.0,69.0" fill="#efeff8"/>
<g clip-path="url(#win2)"><polygon points="95.5,69.0 95.5,89.0 96.0,91.0 98.4,94.0 100.8,100.0 103.2,103.7 105.0,104.9 107.4,100.0 109.2,103.7 111.0,112.1 112.2,125.2 114.0,134.8 115.5,137.8 117.0,132.4 118.2,124.0 120.0,108.5 122.4,107.3 124.8,110.9 126.6,111.5 128.5,104.9 130.3,91.6 132.1,76.0 133.3,70.0 134.0,68.8 141.5,68.8 142.3,70.0 144.1,76.0 146.5,88.0 148.9,96.4 151.3,103.7 153.1,108.5 155.5,109.7 157.3,100.0 159.1,82.0 160.9,70.0 161.5,68.8 169.5,68.8 169.9,70.0 171.7,88.0 174.1,106.1 175.9,116.9 178.3,110.9 180.7,94.0 182.5,76.0 183.1,70.0 183.5,68.8 193.0,68.8 193.3,70.0 195.7,88.0 197.5,103.7 198.7,118.0 200.6,130.0 202.4,144.4 203.6,147.4 205.4,143.2 207.2,136.0 209.0,127.6 210.2,116.9 212.6,111.5 215.0,116.9 216.8,124.0 218.0,145.0 219.5,170.0 221.0,195.0 222.2,222.0 223.5,240.0 225.5,260.5 227.5,246.0 228.8,225.0 229.8,210.0 231.2,188.0 232.5,160.0 234.0,130.0 234.8,106.0 236.6,88.0 239.0,80.2 241.4,84.4 243.2,94.0 245.6,106.1 248.0,115.7 249.8,116.9 252.2,109.7 255.2,97.6 258.2,84.4 260.6,73.6 262.4,70.0 265.4,78.4 267.4,90.4 270.4,98.8 273.4,107.3 276.4,106.1 279.4,107.3 282.4,112.1 285.4,104.9 288.4,91.6 291.4,80.8 294.4,86.8 297.4,95.2 299.8,100.0 303.5,98.8 307.1,100.0 310.1,102.5 312.5,112.1 314.5,122.0 316.5,126.0 318.3,128.1 320.8,134.5 322.7,143.4 324.6,158.6 325.6,170.0 327.2,186.5 329.1,197.9 330.3,201.7 332.2,195.4 334.0,180.0 335.5,160.0 337.3,134.5 338.5,122.0 340.1,106.1 343.1,90.4 345.5,94.0 348.5,103.7 351.5,95.2 354.5,85.6 357.5,79.6 360.5,76.0 363.5,72.4 366.5,78.4 369.5,88.0 372.5,97.6 375.0,101.9 378.0,96.4 381.0,85.6 384.0,79.6 387.6,74.8 390.6,70.0 393.6,71.2 396.6,78.4 399.6,85.6 402.6,89.2 405.6,85.6 409.2,83.2 411.6,77.2 413.4,71.2 414.5,70.5 422.5,70.9 426.7,72.3 430.1,72.3 432.9,77.9 435.0,81.4 437.8,82.8 440.6,82.1 444.0,82.1 446.1,89.0 448.2,100.1 450.3,109.8 452.4,119.6 454.0,125.5 454.0,69.0" fill="#bec0e0"/></g>
<polyline points="95.5,89.0 96.0,91.0 98.4,94.0 100.8,100.0 103.2,103.7 105.0,104.9 107.4,100.0 109.2,103.7 111.0,112.1 112.2,125.2 114.0,134.8 115.5,137.8 117.0,132.4 118.2,124.0 120.0,108.5 122.4,107.3 124.8,110.9 126.6,111.5 128.5,104.9 130.3,91.6 132.1,76.0 133.3,70.0 134.0,68.8 141.5,68.8 142.3,70.0 144.1,76.0 146.5,88.0 148.9,96.4 151.3,103.7 153.1,108.5 155.5,109.7 157.3,100.0 159.1,82.0 160.9,70.0 161.5,68.8 169.5,68.8 169.9,70.0 171.7,88.0 174.1,106.1 175.9,116.9 178.3,110.9 180.7,94.0 182.5,76.0 183.1,70.0 183.5,68.8 193.0,68.8 193.3,70.0 195.7,88.0 197.5,103.7 198.7,118.0 200.6,130.0 202.4,144.4 203.6,147.4 205.4,143.2 207.2,136.0 209.0,127.6 210.2,116.9 212.6,111.5 215.0,116.9 216.8,124.0 218.0,145.0 219.5,170.0 221.0,195.0 222.2,222.0 223.5,240.0 225.5,260.5 227.5,246.0 228.8,225.0 229.8,210.0 231.2,188.0 232.5,160.0 234.0,130.0 234.8,106.0 236.6,88.0 239.0,80.2 241.4,84.4 243.2,94.0 245.6,106.1 248.0,115.7 249.8,116.9 252.2,109.7 255.2,97.6 258.2,84.4 260.6,73.6 262.4,70.0 265.4,78.4 267.4,90.4 270.4,98.8 273.4,107.3 276.4,106.1 279.4,107.3 282.4,112.1 285.4,104.9 288.4,91.6 291.4,80.8 294.4,86.8 297.4,95.2 299.8,100.0 303.5,98.8 307.1,100.0 310.1,102.5 312.5,112.1 314.5,122.0 316.5,126.0 318.3,128.1 320.8,134.5 322.7,143.4 324.6,158.6 325.6,170.0 327.2,186.5 329.1,197.9 330.3,201.7 332.2,195.4 334.0,180.0 335.5,160.0 337.3,134.5 338.5,122.0 340.1,106.1 343.1,90.4 345.5,94.0 348.5,103.7 351.5,95.2 354.5,85.6 357.5,79.6 360.5,76.0 363.5,72.4 366.5,78.4 369.5,88.0 372.5,97.6 375.0,101.9 378.0,96.4 381.0,85.6 384.0,79.6 387.6,74.8 390.6,70.0 393.6,71.2 396.6,78.4 399.6,85.6 402.6,89.2 405.6,85.6 409.2,83.2 411.6,77.2 413.4,71.2 414.5,70.5 422.5,70.9 426.7,72.3 430.1,72.3 432.9,77.9 435.0,81.4 437.8,82.8 440.6,82.1 444.0,82.1 446.1,89.0 448.2,100.1 450.3,109.8 452.4,119.6 454.0,125.5" fill="none" stroke="#fff" stroke-width="5.2" stroke-linejoin="round"/>
<line x1="162.20000000000005" y1="69.0" x2="162.20000000000005" y2="428.5" stroke="#fff" stroke-width="5.2" stroke-dasharray="10.799999999999999 7.200000000000001" stroke-dashoffset="-4.4" opacity="0.8"/>
<line x1="162.20000000000005" y1="69.0" x2="162.20000000000005" y2="428.5" stroke="#000" stroke-width="3.6" stroke-dasharray="9.2 8.8" stroke-dashoffset="-5.2"/>
<line x1="249.0999999999999" y1="69.0" x2="249.0999999999999" y2="428.5" stroke="#fff" stroke-width="5.2" stroke-dasharray="10.799999999999999 7.200000000000001" stroke-dashoffset="-4.4" opacity="0.8"/>
<line x1="249.0999999999999" y1="69.0" x2="249.0999999999999" y2="428.5" stroke="#000" stroke-width="3.6" stroke-dasharray="9.2 8.8" stroke-dashoffset="-5.2"/>
<line x1="200.4000000000001" y1="69.0" x2="200.4000000000001" y2="428.5" stroke="#fff" stroke-width="5.2" opacity="0.8"/>
<line x1="200.4000000000001" y1="69.0" x2="200.4000000000001" y2="428.5" stroke="#000" stroke-width="3.6"/>
<line x1="290.70000000000005" y1="69.0" x2="290.70000000000005" y2="428.5" stroke="#e3121b" stroke-width="3.6" stroke-dasharray="9.2 8.8" stroke-dashoffset="-5.2"/>
<polyline points="95.5,68.8 113.5,68.8 115.2,70.0 117.6,78.4 119.4,84.4 121.2,89.2 123.0,86.8 125.4,88.0 126.6,94.0 127.9,106.1 129.1,118.1 130.3,136.0 132.1,160.0 133.3,184.4 134.2,191.6 135.4,184.4 136.6,170.0 137.6,155.0 138.5,135.0 139.3,112.0 140.5,88.0 142.3,73.6 143.5,73.6 145.3,82.0 147.7,91.6 150.1,100.0 152.5,102.5 154.9,103.7 157.3,109.7 159.1,118.1 160.3,136.0 161.5,160.0 162.1,180.0 163.3,200.0 164.5,218.1 166.9,240.0 169.3,258.0 171.1,277.0 171.7,282.0 174.1,289.2 176.5,292.8 178.3,298.2 180.1,288.0 181.2,270.0 182.5,240.0 183.5,228.0 184.9,206.0 186.5,185.0 188.0,168.0 189.6,163.5 191.2,170.0 192.5,185.0 193.3,200.0 194.5,220.0 195.5,235.0 196.9,250.0 198.5,256.0 201.0,235.0 203.0,213.3 204.2,212.7 205.4,218.1 206.6,235.0 209.0,264.1 210.2,294.0 212.0,318.1 213.8,330.7 215.6,318.1 217.4,300.0 219.2,282.0 219.8,258.0 221.6,234.0 222.6,220.0 224.6,200.0 227.0,182.0 228.8,168.0 230.5,150.0 232.4,139.6 234.2,137.2 236.0,148.0 237.8,166.1 239.0,194.0 240.5,220.0 241.4,252.0 242.8,270.0 243.8,277.3 245.0,272.0 246.2,258.0 247.2,240.0 248.0,228.0 248.8,215.0 250.4,194.0 252.2,170.0 252.8,160.0 254.6,142.0 256.4,127.6 258.2,123.0 260.6,123.0 263.0,125.0 265.4,121.0 267.5,120.5 270.7,128.1 273.2,134.5 275.8,130.7 277.7,121.8 280.6,103.7 284.2,91.6 286.6,82.0 288.4,71.2 289.0,68.8 298.5,68.8 299.8,71.0 301.0,68.8 312.0,68.8 313.1,71.2 315.5,79.6 317.9,94.0 320.3,109.7 322.7,121.0 325.9,130.0 328.4,125.6 330.5,106.1 333.5,94.0 336.5,91.0 339.5,88.0 341.9,85.6 343.7,82.0 345.5,74.8 346.7,70.0 347.5,68.8 363.0,68.8 363.5,70.0 365.9,78.4 367.7,91.6 369.5,100.0 372.5,104.9 375.6,102.5 378.6,107.3 380.4,118.1 383.0,143.4 385.5,168.7 386.1,182.7 387.8,194.1 389.9,184.0 391.8,160.0 393.7,133.2 395.0,118.0 396.0,106.1 397.8,88.0 400.2,82.0 403.2,80.8 406.2,78.4 408.6,73.6 409.8,70.0 410.5,68.8 414.5,68.8 415.6,70.9 417.6,79.3 420.4,85.5 423.2,81.4 426.0,75.8 428.1,76.5 430.1,82.1 432.2,91.8 434.3,100.1 435.7,108.4 437.1,119.6 438.5,134.0 439.5,150.0 440.5,168.0 441.3,182.7 442.6,191.6 444.5,182.7 446.4,165.0 447.5,140.0 449.6,119.6 451.7,98.7 453.1,82.1 454.2,75.0" fill="none" stroke="#e3121b" stroke-width="3.0" stroke-linejoin="round" stroke-linecap="round"/>
<polyline points="95.5,89.0 96.0,91.0 98.4,94.0 100.8,100.0 103.2,103.7 105.0,104.9 107.4,100.0 109.2,103.7 111.0,112.1 112.2,125.2 114.0,134.8 115.5,137.8 117.0,132.4 118.2,124.0 120.0,108.5 122.4,107.3 124.8,110.9 126.6,111.5 128.5,104.9 130.3,91.6 132.1,76.0 133.3,70.0 134.0,68.8 141.5,68.8 142.3,70.0 144.1,76.0 146.5,88.0 148.9,96.4 151.3,103.7 153.1,108.5 155.5,109.7 157.3,100.0 159.1,82.0 160.9,70.0 161.5,68.8 169.5,68.8 169.9,70.0 171.7,88.0 174.1,106.1 175.9,116.9 178.3,110.9 180.7,94.0 182.5,76.0 183.1,70.0 183.5,68.8 193.0,68.8 193.3,70.0 195.7,88.0 197.5,103.7 198.7,118.0 200.6,130.0 202.4,144.4 203.6,147.4 205.4,143.2 207.2,136.0 209.0,127.6 210.2,116.9 212.6,111.5 215.0,116.9 216.8,124.0 218.0,145.0 219.5,170.0 221.0,195.0 222.2,222.0 223.5,240.0 225.5,260.5 227.5,246.0 228.8,225.0 229.8,210.0 231.2,188.0 232.5,160.0 234.0,130.0 234.8,106.0 236.6,88.0 239.0,80.2 241.4,84.4 243.2,94.0 245.6,106.1 248.0,115.7 249.8,116.9 252.2,109.7 255.2,97.6 258.2,84.4 260.6,73.6 262.4,70.0 265.4,78.4 267.4,90.4 270.4,98.8 273.4,107.3 276.4,106.1 279.4,107.3 282.4,112.1 285.4,104.9 288.4,91.6 291.4,80.8 294.4,86.8 297.4,95.2 299.8,100.0 303.5,98.8 307.1,100.0 310.1,102.5 312.5,112.1 314.5,122.0 316.5,126.0 318.3,128.1 320.8,134.5 322.7,143.4 324.6,158.6 325.6,170.0 327.2,186.5 329.1,197.9 330.3,201.7 332.2,195.4 334.0,180.0 335.5,160.0 337.3,134.5 338.5,122.0 340.1,106.1 343.1,90.4 345.5,94.0 348.5,103.7 351.5,95.2 354.5,85.6 357.5,79.6 360.5,76.0 363.5,72.4 366.5,78.4 369.5,88.0 372.5,97.6 375.0,101.9 378.0,96.4 381.0,85.6 384.0,79.6 387.6,74.8 390.6,70.0 393.6,71.2 396.6,78.4 399.6,85.6 402.6,89.2 405.6,85.6 409.2,83.2 411.6,77.2 413.4,71.2 414.5,70.5 422.5,70.9 426.7,72.3 430.1,72.3 432.9,77.9 435.0,81.4 437.8,82.8 440.6,82.1 444.0,82.1 446.1,89.0 448.2,100.1 450.3,109.8 452.4,119.6 454.0,125.5" fill="none" stroke="#12207a" stroke-width="3.0" stroke-linejoin="round" stroke-linecap="round"/>
</g>
<rect x="95.1" y="69.0" width="359.5" height="359.5" fill="none" stroke="#fff" stroke-opacity="0.7" stroke-width="4.8"/>
<path d="M119.07,428.5v-4.8M119.07,69.0v4.8M143.03,428.5v-4.8M143.03,69.0v4.8M167.00,428.5v-4.8M167.00,69.0v4.8M190.97,428.5v-4.8M190.97,69.0v4.8M214.93,428.5v-4.8M214.93,69.0v4.8M238.90,428.5v-4.8M238.90,69.0v4.8M262.87,428.5v-4.8M262.87,69.0v4.8M286.83,428.5v-4.8M286.83,69.0v4.8M310.80,428.5v-4.8M310.80,69.0v4.8M334.77,428.5v-4.8M334.77,69.0v4.8M358.73,428.5v-4.8M358.73,69.0v4.8M382.70,428.5v-4.8M382.70,69.0v4.8M406.67,428.5v-4.8M406.67,69.0v4.8M430.63,428.5v-4.8M430.63,69.0v4.8M95.1,158.95h4.8M454.6,158.95h-4.8M95.1,248.90h4.8M454.6,248.90h-4.8M95.1,338.85h4.8M454.6,338.85h-4.8" stroke="#fff" stroke-opacity="0.7" stroke-width="4.4" fill="none"/>
<path d="M119.07,428.5v-4.8M119.07,69.0v4.8M143.03,428.5v-4.8M143.03,69.0v4.8M167.00,428.5v-4.8M167.00,69.0v4.8M190.97,428.5v-4.8M190.97,69.0v4.8M214.93,428.5v-4.8M214.93,69.0v4.8M238.90,428.5v-4.8M238.90,69.0v4.8M262.87,428.5v-4.8M262.87,69.0v4.8M286.83,428.5v-4.8M286.83,69.0v4.8M310.80,428.5v-4.8M310.80,69.0v4.8M334.77,428.5v-4.8M334.77,69.0v4.8M358.73,428.5v-4.8M358.73,69.0v4.8M382.70,428.5v-4.8M382.70,69.0v4.8M406.67,428.5v-4.8M406.67,69.0v4.8M430.63,428.5v-4.8M430.63,69.0v4.8M95.1,158.95h4.8M454.6,158.95h-4.8M95.1,248.90h4.8M454.6,248.90h-4.8M95.1,338.85h4.8M454.6,338.85h-4.8" stroke="#000" stroke-width="2.4" fill="none"/>
<rect x="95.1" y="69.0" width="359.5" height="359.5" fill="none" stroke="#000" stroke-width="2.8"/>
<text x="89.6" y="78.3" font-size="26.3" text-anchor="end">0</text>
<text x="89.6" y="168.2" font-size="26.3" text-anchor="end"><tspan dy="2.4">−</tspan><tspan dy="-2.4">0.1</tspan></text>
<text x="89.6" y="258.2" font-size="26.3" text-anchor="end"><tspan dy="2.4">−</tspan><tspan dy="-2.4">0.2</tspan></text>
<text x="89.6" y="348.1" font-size="26.3" text-anchor="end"><tspan dy="2.4">−</tspan><tspan dy="-2.4">0.3</tspan></text>
<text x="89.6" y="438.1" font-size="26.3" text-anchor="end"><tspan dy="2.4">−</tspan><tspan dy="-2.4">0.4</tspan></text>
<text x="95.1" y="456.2" font-size="26" text-anchor="middle">100</text>
<text x="214.9" y="456.2" font-size="26" text-anchor="middle">150</text>
<text x="334.8" y="456.2" font-size="26" text-anchor="middle">200</text>
<text x="454.6" y="456.2" font-size="26" text-anchor="middle">250</text>
<text x="274.9" y="494.2" font-size="27" text-anchor="middle">Time (ns)</text>
<text transform="translate(23.6,249.0) rotate(-90)" x="0" y="0" font-size="26.6" text-anchor="middle">X−ray subtracted PMT signal (V)</text>
<text x="-10.4" y="28" font-size="32">(c)</text>
<g transform="translate(-1.9,0)">
<rect x="279.5" y="358.5" width="165" height="58.7" fill="#fff" stroke="#000" stroke-width="2.6"/>
<line x1="287.1" y1="374.4" x2="310.9" y2="374.4" stroke="#e3121b" stroke-width="2.6"/>
<line x1="287.1" y1="401" x2="310.9" y2="401" stroke="#12207a" stroke-width="2.6"/>
<text x="323.5" y="381" font-size="20.5" word-spacing="1">With CD<tspan font-size="11">2</tspan></text>
<text x="323.5" y="407.5" font-size="20.5" word-spacing="1">Without CD<tspan font-size="11">2</tspan></text>
</g>
</g>
</svg></body></html>
